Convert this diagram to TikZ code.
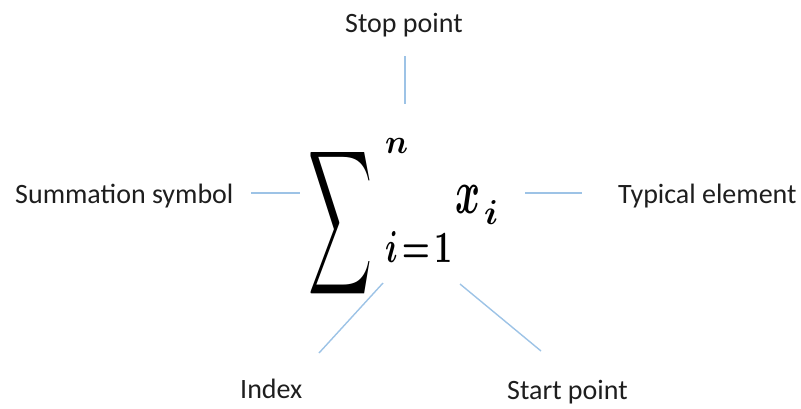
\documentclass[tikz,border=0pt]{standalone}
\usepackage{fontspec}
\usepackage{graphicx}
\setmainfont{Carlito}
\definecolor{linkblue}{HTML}{9DC3E6}
\definecolor{txt}{HTML}{1E1E1E}
\begin{document}
\begin{tikzpicture}[x=1pt,y=-1pt,
  lbl/.style={inner sep=0pt,anchor=base west,text=txt,font=\fontsize{28}{32}\selectfont},
  mth/.style={inner sep=0pt,text=black,anchor=base west,font=\boldmath},
  link/.style={draw=linkblue,line width=1.4pt}]
\useasboundingbox (0,0) rectangle (801,408);
% formula parts
\node[mth,anchor=north west] (sig) at (308,142) {\resizebox{64pt}{106pt}{$\displaystyle\sum$}};
\node[mth] (sup) at (385,153) {\resizebox{23pt}{15pt}{$n$}};
\node[mth] (sub) at (385,262) {\resizebox{67pt}{31pt}{$i\mkern2mu{=}\mkern2mu1$}};
\node[mth] (xx) at (455,213) {\resizebox{25pt}{28pt}{$x$}};
\node[mth] (xi) at (484,224) {\resizebox{!}{24pt}{$i$}};
% labels
\node[lbl] (stop) at (345,32) {Stop point};
\node[lbl] (summ) at (15,203) {Summation symbol};
\node[lbl] (typ) at (618,203) {Typical element};
\node[lbl] (idx) at (240,398) {Index};
\node[lbl] (start) at (507,399) {Start point};
% connector ends
\coordinate (a1) at (405,56);  \coordinate (a2) at (405,104);
\coordinate (b1) at (251,193); \coordinate (b2) at (300,193);
\coordinate (c1) at (525,193); \coordinate (c2) at (582,193);
\coordinate (d1) at (383,283); \coordinate (d2) at (319,353);
\coordinate (e1) at (460,284); \coordinate (e2) at (541,351);
\draw[link] (a1) -- (a2);
\draw[link] (b1) -- (b2);
\draw[link] (c1) -- (c2);
\draw[link] (d1) -- (d2);
\draw[link] (e1) -- (e2);
\end{tikzpicture}
\end{document}
